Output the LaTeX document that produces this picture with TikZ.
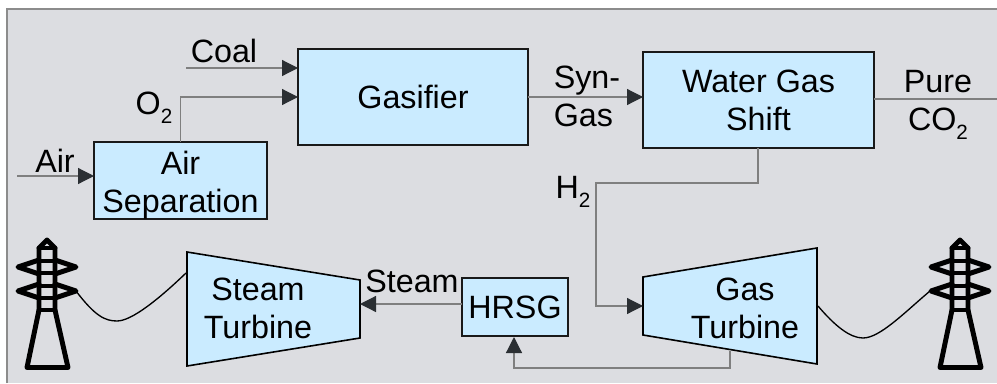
\documentclass[tikz,border=0pt]{standalone}
\usepackage{fontspec}
\setmainfont{Liberation Sans}
\usetikzlibrary{arrows.meta}
\definecolor{panel}{HTML}{DCDDE1}
\definecolor{boxfill}{HTML}{CAEBFF}
\definecolor{flow}{HTML}{7F7F7F}
\definecolor{tip}{HTML}{2B2F33}
\newcommand{\subtwo}{\raisebox{-6.5pt}{\fontsize{15.5}{16}\selectfont 2}}
\tikzset{
  x=0.75pt,y=-0.75pt,
  procbox/.style={draw=black!90,line width=1.5pt,fill=boxfill,inner sep=0pt,align=center,font=\fontsize{24.2}{28.5}\selectfont},
  trap/.style={draw=black,line width=1.2pt,fill=boxfill,line join=miter},
  lab/.style={inner sep=0pt,align=center,font=\fontsize{24.2}{28.5}\selectfont},
  flowline/.style={draw=flow,line width=0.9pt,-{Triangle[length=12pt,width=12pt,color=tip]}},
  plainflow/.style={draw=flow,line width=0.9pt},
  wire/.style={draw=black,line width=1pt},
  towerline/.style={draw=black,line width=3.7pt,line join=round,line cap=round}
}
\newcommand{\pylon}[1]{%
  \begin{scope}[xshift=#1*0.75pt]
    \draw[towerline] (27,367.5) -- (39,310) -- (39,248) -- (47,240) -- (55,248) -- (55,310) -- (68,367.5) -- cycle;
    \draw[towerline] (39,248) -- (55,248) (39,261) -- (55,261) (39,273) -- (55,273) (39,286) -- (55,286) (39,298) -- (55,298) (39,310) -- (55,310);
    \draw[towerline] (39,260) -- (18,267) -- (39,274) (55,260) -- (76,267) -- (55,274);
    \draw[towerline] (39,284) -- (18,291) -- (39,298) (55,284) -- (76,291) -- (55,298);
  \end{scope}}
\begin{document}
\begin{tikzpicture}
\useasboundingbox (0,0) rectangle (997,383);
\fill[white] (0,0) rectangle (997,383);
\fill[panel] (7,9) rectangle (997,383);
\draw[draw=gray!90,line width=1pt] (7,383) -- (7,9) -- (997,9);

\node[procbox,minimum width=129.75pt,minimum height=57.5pt,label={[lab,yshift=-3.2pt]center:Air\\Separation}] (airsep) at (180.5,180.5) {};
\node[procbox,minimum width=172.5pt,minimum height=72pt] (gasifier) at (413,97) {Gasifier};
\node[procbox,minimum width=173.25pt,minimum height=72pt] (wgs) at (758.5,100) {Water Gas\\Shift};
\node[procbox,minimum width=79.5pt,minimum height=43.5pt] (hrsg) at (515,307) {HRSG};

\draw[trap] (187,252) -- (360,280) -- (360,338) -- (187,366) -- cycle;
\coordinate (stR) at (360,304);
\node[lab] (stlabel) at (258,308) {Steam\\Turbine};
\draw[trap] (643,277) -- (817,248) -- (817,364) -- (643,335) -- cycle;
\coordinate (gtL) at (643,306);
\coordinate (gtB) at (730,351);
\node[lab] (gtlabel) at (745,308) {Gas\\Turbine};

\coordinate (coalS) at (186,68);
\coordinate (airS) at (17,176);
\coordinate (co2E) at (997,99);
\coordinate (o2c) at (180.5,97);
\coordinate (gasIn1) at (298,68);
\coordinate (gasIn2) at (298,97);
\coordinate (airIn) at (94,176);
\coordinate (o2S) at (180.5,142);
\coordinate (synS) at (528,97);
\coordinate (synE) at (643,97);
\coordinate (co2S) at (874,99);
\coordinate (h2S) at (758,148);
\coordinate (h2a) at (758,183);
\coordinate (h2b) at (596,183);
\coordinate (h2c) at (596,306);
\coordinate (hrsgL) at (462,304);
\coordinate (hrsgB) at (514,337);
\coordinate (ret) at (730,368);
\coordinate (ret2) at (514,368);

\draw[flowline] (coalS) -- (gasIn1);
\draw[flowline] (airS) -- (airIn);
\draw[flowline] (o2S) -- (o2c) -- (gasIn2);
\draw[flowline] (synS) -- (synE);
\draw[plainflow] (co2S) -- (co2E);
\draw[flowline] (h2S) -- (h2a) -- (h2b) -- (h2c) -- (gtL);
\draw[flowline] (hrsgL) -- (stR);
\draw[flowline] (gtB) -- (ret) -- (ret2) -- (hrsgB);

\node[lab] (coal) at (224,51) {Coal};
\node[lab] (o2) at (154,108) {O\subtwo};
\node[lab] (air) at (55,161) {Air};
\node[lab,align=left] (syn) at (587,96) {Syn-\\Gas};
\node[lab] (pure) at (938,105) {Pure\\CO\subtwo};
\node[lab] (h2) at (573,192) {H\subtwo};
\node[lab] (steam) at (412,281) {Steam};

\pylon{0}
\pylon{913}
\draw[wire] (76,291) .. controls (95,316) and (105,321) .. (117,321) .. controls (132,321) and (160,298) .. (186,273);
\draw[wire] (818,306) .. controls (835,326) and (850,338) .. (863,338) .. controls (880,338) and (905,312) .. (930,291);
\end{tikzpicture}
\end{document}
